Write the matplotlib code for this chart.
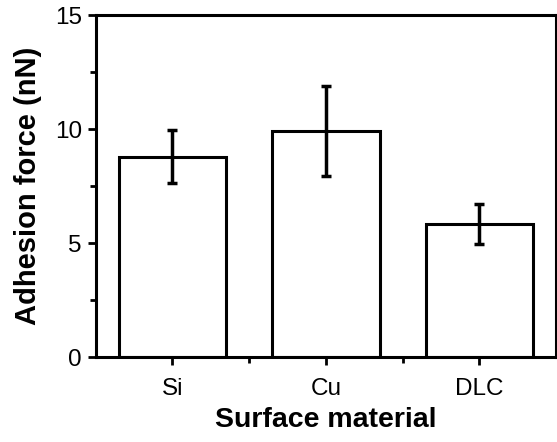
import matplotlib
matplotlib.use("Agg")
import matplotlib.pyplot as plt
from matplotlib.ticker import MultipleLocator, FixedLocator

materials = ["Si", "Cu", "DLC"]
adhesion = [8.79, 9.93, 5.83]
adhesion_err = [1.17, 1.98, 0.87]

plt.rcParams["font.family"] = ["Liberation Sans", "DejaVu Sans"]

fig = plt.figure(figsize=(5.57, 4.42), dpi=100)
ax = fig.add_axes([0.172, 0.192, 0.826, 0.774])

x = range(len(materials))
ax.bar(x, adhesion, width=0.7, color="white", edgecolor="black", linewidth=2.2,
       yerr=adhesion_err, capsize=3.5,
       error_kw=dict(elinewidth=2.5, capthick=2.5, ecolor="black"))

ax.set_xlim(-0.5, 2.5)
ax.set_ylim(0, 15)
ax.set_xticks(list(x))
ax.set_xticklabels(materials)
ax.xaxis.set_minor_locator(FixedLocator([0.5, 1.5]))
ax.yaxis.set_major_locator(MultipleLocator(5))
ax.yaxis.set_minor_locator(MultipleLocator(2.5))

for s in ax.spines.values():
    s.set_linewidth(2.2)
ax.tick_params(which="both", direction="out", width=2, labelsize=17.5, colors="black")
ax.tick_params(which="major", length=6)
ax.tick_params(which="minor", length=4)
ax.tick_params(axis="x", pad=9)
ax.tick_params(axis="y", pad=4)

ax.set_xlabel("Surface material", fontsize=20.5, fontweight="bold", labelpad=5)
ax.set_ylabel("Adhesion force (nN)", fontsize=21, fontweight="bold", labelpad=9)

fig.savefig("out.png", dpi=100)
